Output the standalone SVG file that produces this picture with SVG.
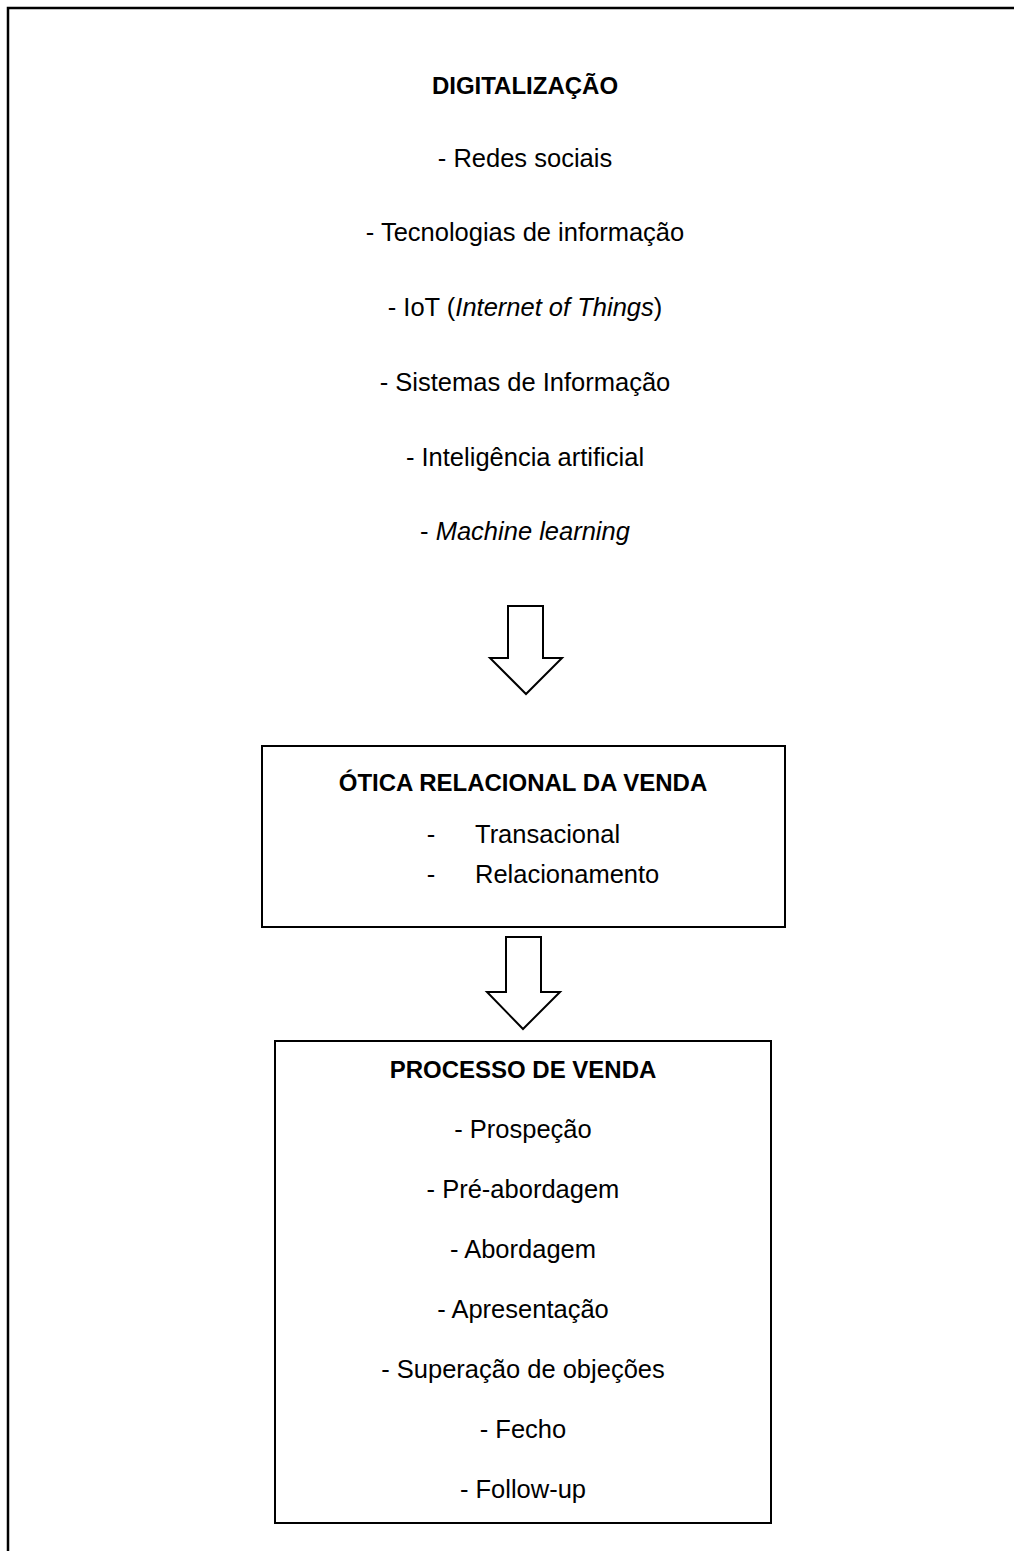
<svg xmlns="http://www.w3.org/2000/svg" width="1014" height="1551" viewBox="0 0 1014 1551">
<style>
  .t { font-family: "Liberation Sans", Arial, sans-serif; font-size: 25.5px; fill: #000; text-anchor: middle; }
  .b { font-weight: bold; font-size: 24px; }
  .i { font-style: italic; }
  .box { fill: #fff; stroke: #000; stroke-width: 2; }
  .arrow { fill: #fff; stroke: #000; stroke-width: 2; stroke-linejoin: miter; }
</style>
<rect width="1014" height="1551" fill="#fff"/>
<g id="frame">
  <rect x="8" y="8" width="1030" height="1570" fill="none" stroke="#000" stroke-width="2.5"/>
</g>
<g id="digitalizacao">
  <text class="t b" x="525" y="94">DIGITALIZAÇÃO</text>
  <text class="t" x="525" y="167">- Redes sociais</text>
  <text class="t" x="525" y="241">- Tecnologias de informação</text>
  <text class="t" x="525" y="316">- IoT (<tspan class="i">Internet of Things</tspan>)</text>
  <text class="t" x="525" y="391">- Sistemas de Informação</text>
  <text class="t" x="525" y="466">- Inteligência artificial</text>
  <text class="t" x="525" y="540">- <tspan class="i">Machine learning</tspan></text>
</g>
<g id="connectors">
  <polygon class="arrow" points="508,606 543,606 543,658 562,658 526,694 490,658 508,658"/>
  <polygon class="arrow" points="506,937 541,937 541,992 560,992 523,1029 487,992 506,992"/>
</g>
<g id="otica">
  <rect class="box" x="262" y="746" width="523" height="181"/>
  <text class="t b" x="523" y="791">ÓTICA RELACIONAL DA VENDA</text>
  <text class="t" x="431" y="843">-</text>
  <text class="t" x="475" y="843" style="text-anchor:start">Transacional</text>
  <text class="t" x="431" y="883">-</text>
  <text class="t" x="475" y="883" style="text-anchor:start">Relacionamento</text>
</g>
<g id="processo">
  <rect class="box" x="275" y="1041" width="496" height="482"/>
  <text class="t b" x="523" y="1078">PROCESSO DE VENDA</text>
  <text class="t" x="523" y="1138">- Prospeção</text>
  <text class="t" x="523" y="1198">- Pré-abordagem</text>
  <text class="t" x="523" y="1258">- Abordagem</text>
  <text class="t" x="523" y="1318">- Apresentação</text>
  <text class="t" x="523" y="1378">- Superação de objeções</text>
  <text class="t" x="523" y="1438">- Fecho</text>
  <text class="t" x="523" y="1498">- Follow-up</text>
</g>
</svg>
